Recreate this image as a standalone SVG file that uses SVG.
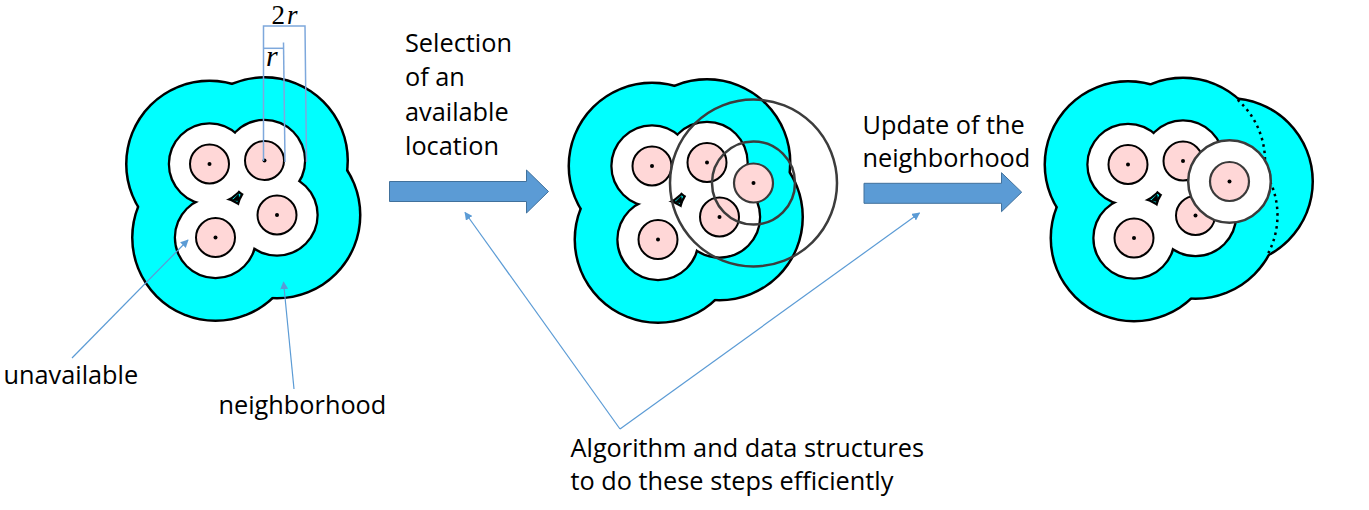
<svg xmlns="http://www.w3.org/2000/svg" width="1369" height="510" viewBox="0 0 1369 510">
<style>
.cs{fill:none;stroke:#000;stroke-width:5}
.cf{fill:#00ffff;stroke:none}
.ws{fill:none;stroke:#000;stroke-width:4.5}
.wf{fill:#fff;stroke:none}
.pk{fill:#ffd7d7;stroke:#000;stroke-width:2}
.pkn{fill:#ffd7d7;stroke:#3a3a3a;stroke-width:2.2}
.dot{fill:#000}
.gray{fill:none;stroke:#3c3c3c;stroke-width:2.5}
.lbl{font-family:"Open Sans","Liberation Sans",sans-serif;font-size:25.3px;fill:#000}
.math{font-family:"Liberation Serif",serif;fill:#000}
.conn{fill:none;stroke:#5b9bd5;stroke-width:1.2}
.dim{fill:none;stroke:#7ea8dc;stroke-width:1.5}
.barrow{fill:#5b9bd5;stroke:#41719c;stroke-width:1}
</style>
<defs>
<marker id="ah" viewBox="0 0 10 10" refX="9" refY="5" markerWidth="8" markerHeight="8" markerUnits="userSpaceOnUse" orient="auto">
<path d="M0,0 L10,5 L0,10 z" fill="#5b9bd5"/>
</marker>
<g id="c82">
<circle cx="209.5" cy="164" r="82"/>
<circle cx="264.5" cy="160.5" r="82"/>
<circle cx="277" cy="215" r="82"/>
<circle cx="215.5" cy="237.5" r="82"/>
</g>
<circle id="e82" cx="311" cy="181" r="82"/>
<g id="c40">
<circle cx="209.5" cy="164" r="39.5"/>
<circle cx="264.5" cy="160.5" r="39.5"/>
<circle cx="277" cy="215" r="39.5"/>
<circle cx="215.5" cy="237.5" r="39.5"/>
</g>
<g id="pinks">
<circle class="pk" cx="209.5" cy="164" r="19.5"/>
<circle class="pk" cx="264.5" cy="160.5" r="19.5"/>
<circle class="pk" cx="277" cy="215" r="19.5"/>
<circle class="pk" cx="215.5" cy="237.5" r="19.5"/>
<circle class="dot" cx="209.5" cy="164" r="2"/>
<circle class="dot" cx="264.5" cy="160.5" r="2"/>
<circle class="dot" cx="277" cy="215" r="2"/>
<circle class="dot" cx="215.5" cy="237.5" r="2"/>
<polygon points="233,200 238.5,194.5 239.5,201" fill="#000" stroke="#000" stroke-width="0.8"/>
</g>
<g id="newp">
<circle class="pkn" cx="311" cy="181" r="19.5"/>
<circle class="dot" cx="311" cy="181" r="2"/>
</g>
</defs>

<g id="cluster-initial">
<use href="#c82" class="cs"/>
<use href="#c82" class="cf"/>
<use href="#c40" class="ws"/>
<use href="#c40" class="wf"/>
<use href="#pinks"/>
</g>

<g id="dimensions">
<path class="dim" d="M263.5,161 L263.5,26 L305,26 L306.5,162"/>
<path class="dim" d="M263.5,48.3 L284,48.3"/>
<path class="dim" d="M283.5,42.5 L285,162"/>
<text class="math" x="271.5" y="24" font-size="27">2<tspan x="287" font-style="italic">r</tspan></text>
<text class="math" x="266" y="66" font-size="30" font-style="italic">r</text>
</g>

<g id="cluster-selection" transform="translate(442.5,2)">
<use href="#c82" class="cs"/>
<use href="#c82" class="cf"/>
<use href="#c40" class="ws"/>
<use href="#c40" class="wf"/>
<use href="#pinks"/>
<use href="#newp"/>
<circle class="gray" cx="311" cy="181" r="41.5"/>
<circle class="gray" cx="311" cy="181" r="83.5"/>
</g>

<g id="cluster-updated" transform="translate(918.5,0.5)">
<use href="#c82" class="cs"/>
<use href="#e82" class="cs"/>
<use href="#c82" class="cf"/>
<use href="#e82" class="cf"/>
<use href="#c40" class="ws"/>
<use href="#c40" class="wf"/>
<use href="#pinks"/>
<path d="M319.2,99.4 A82,82 0 0,1 345.9,170.5 A82,82 0 0,1 349.4,253.4" fill="none" stroke="#000" stroke-width="2.5" stroke-dasharray="2.5 4"/>
<circle cx="311" cy="181" r="41.3" fill="#fff" stroke="#3c3c3c" stroke-width="2.5"/>
<use href="#newp"/>
</g>

<g id="step-arrows">
<polygon class="barrow" points="389.5,181.5 526.5,181.5 526.5,170 548.5,191.5 526.5,213 526.5,201.5 389.5,201.5"/>
<polygon class="barrow" points="864,183.3 1001.5,183.3 1001.5,172.7 1021.7,192.2 1001.5,211.7 1001.5,203.3 864,203.3"/>
</g>

<g id="connectors">
<line class="conn" x1="72" y1="358" x2="188" y2="240" marker-end="url(#ah)"/>
<line class="conn" x1="294" y1="389" x2="283.5" y2="282" marker-end="url(#ah)"/>
<line class="conn" x1="620" y1="429" x2="465" y2="212.5" marker-end="url(#ah)"/>
<line class="conn" x1="620" y1="429" x2="919.5" y2="213" marker-end="url(#ah)"/>
</g>

<g id="labels">
<text class="lbl" x="405" y="51.5">Selection</text>
<text class="lbl" x="405" y="86">of an</text>
<text class="lbl" x="405" y="120.5">available</text>
<text class="lbl" x="405" y="155">location</text>
<text class="lbl" x="862.5" y="133.5">Update of the</text>
<text class="lbl" x="862.5" y="167">neighborhood</text>
<text class="lbl" x="3.5" y="384">unavailable</text>
<text class="lbl" x="218.5" y="414">neighborhood</text>
<text class="lbl" x="570.5" y="457">Algorithm and data structures</text>
<text class="lbl" x="570.5" y="490">to do these steps efficiently</text>
</g>
</svg>
